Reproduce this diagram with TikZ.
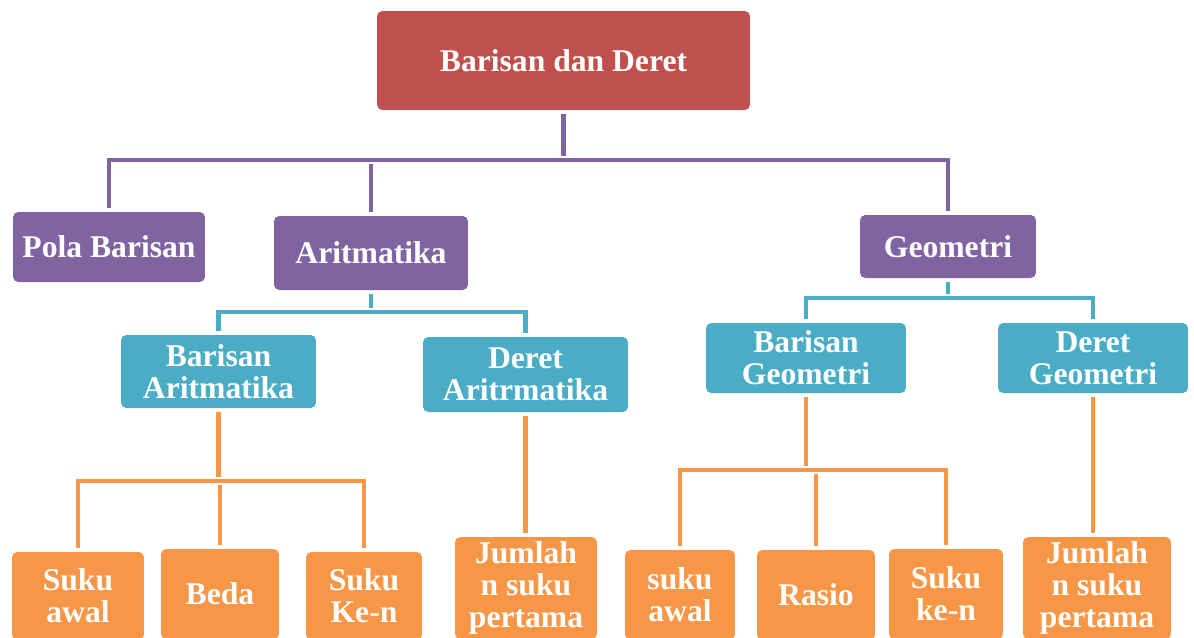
\documentclass[tikz,border=0pt]{standalone}
\usepackage{fontspec}
\setmainfont{Liberation Serif}
\usepackage{tikz}

\definecolor{judul}{HTML}{C0504D}
\definecolor{ungu}{HTML}{8064A2}
\definecolor{biru}{HTML}{4BACC6}
\definecolor{jingga}{HTML}{F79646}

\begin{document}
\begin{tikzpicture}[x=0.02cm,y=-0.02cm,
  kotak/.style={rounded corners=3pt,inner sep=0pt,align=center,text=white,
    font=\fontsize{18}{18.2}\selectfont\bfseries},
  garis/.style={line width=2.6pt,shorten <=2pt,shorten >=2pt}]
\clip (0,0) rectangle (1194,637);
% tingkat 1 dan 2
\node[kotak,fill=judul,minimum width=7.46cm,minimum height=1.98cm] (bdd) at (563.5,60.5) {Barisan dan Deret};
\node[kotak,fill=ungu,minimum width=3.84cm,minimum height=1.4cm] (pola) at (109,247) {Pola Barisan};
\node[kotak,fill=ungu,minimum width=3.88cm,minimum height=1.48cm] (arit) at (371,253) {Aritmatika};
\node[kotak,fill=ungu,minimum width=3.52cm,minimum height=1.26cm] (geo) at (948,246.5) {Geometri};
% tingkat 3
\node[kotak,fill=biru,minimum width=3.9cm,minimum height=1.46cm] (barA) at (218.5,371.5) {Barisan\\Aritmatika};
\node[kotak,fill=biru,minimum width=4.1cm,minimum height=1.5cm] (derA) at (525.5,374.5) {Deret\\Aritrmatika};
\node[kotak,fill=biru,minimum width=4cm,minimum height=1.4cm] (barG) at (806,358) {Barisan\\Geometri};
\node[kotak,fill=biru,minimum width=3.8cm,minimum height=1.4cm] (derG) at (1093,358) {Deret\\Geometri};
% tingkat 4
\node[kotak,fill=jingga,minimum width=2.64cm,minimum height=1.76cm] (awalA) at (78,596) {Suku\\awal};
\node[kotak,fill=jingga,minimum width=2.36cm,minimum height=1.8cm] (beda) at (220,594) {Beda};
\node[kotak,fill=jingga,minimum width=2.32cm,minimum height=1.76cm] (kenA) at (364,596) {Suku\\Ke-n};
\node[kotak,fill=jingga,minimum width=2.84cm,minimum height=2.04cm] (jmlA) at (526,588) {Jumlah\\n suku\\pertama};
\node[kotak,fill=jingga,minimum width=2.2cm,minimum height=1.8cm] (awalG) at (680,595) {suku\\awal};
\node[kotak,fill=jingga,minimum width=2.36cm,minimum height=1.8cm] (rasio) at (816,595) {Rasio};
\node[kotak,fill=jingga,minimum width=2.28cm,minimum height=1.8cm] (kenG) at (946,594) {Suku\\ke-n};
\node[kotak,fill=jingga,minimum width=2.96cm,minimum height=2.04cm] (jmlG) at (1097,588) {Jumlah\\n suku\\pertama};
% simpul cabang
\coordinate (c1) at (563.5,160);
\coordinate (c2) at (371,312);
\coordinate (c3) at (948,298);
\coordinate (c4) at (218.5,481);
\coordinate (c5) at (806,470);
% garis
\draw[garis,ungu] (bdd.south) -- (c1);
\draw[garis,ungu] (pola.north) |- (c1) -| (geo.north);
\draw[garis,ungu] (arit.north) -- (arit.north |- c1);
\draw[garis,biru] (arit.south) -- (c2);
\draw[garis,biru] (barA.north) |- (c2) -| (derA.north);
\draw[garis,biru] (geo.south) -- (c3);
\draw[garis,biru] (barG.north) |- (c3) -| (derG.north);
\draw[garis,jingga] (barA.south) -- (c4);
\draw[garis,jingga] (awalA.north) |- (c4) -| (kenA.north);
\draw[garis,jingga] (beda.north) -- (beda.north |- c4);
\draw[garis,jingga] (derA.south) -- (derA.south |- jmlA.north);
\draw[garis,jingga] (barG.south) -- (c5);
\draw[garis,jingga] (awalG.north) |- (c5) -| (kenG.north);
\draw[garis,jingga] (rasio.north) -- (rasio.north |- c5);
\draw[garis,jingga] (derG.south) -- (derG.south |- jmlG.north);
\end{tikzpicture}
\end{document}
